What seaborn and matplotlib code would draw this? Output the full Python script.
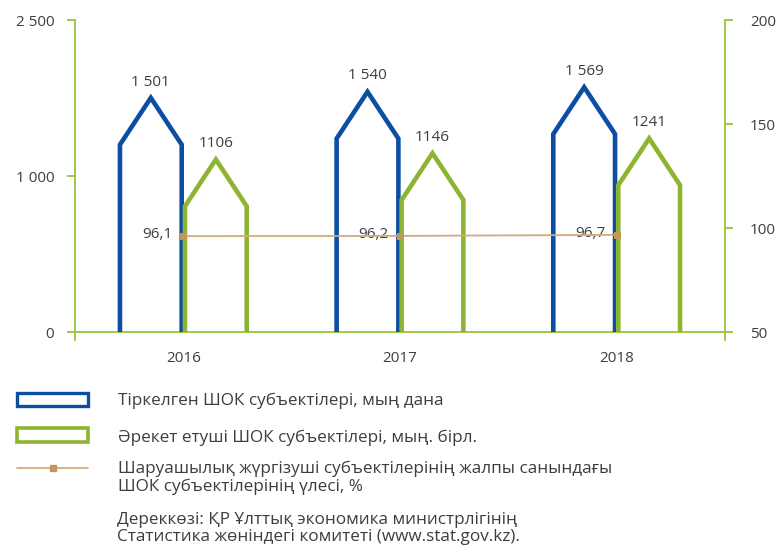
import pandas as pd
import matplotlib
matplotlib.use('Agg')
import matplotlib.pyplot as plt
from matplotlib.patches import Rectangle
from matplotlib.lines import Line2D
import seaborn as sns

# data
years = ['2016', '2017', '2018']
registered = [1501, 1540, 1569]
active = [1106, 1146, 1241]
share = [96.1, 96.2, 96.7]
registered_labels = ['1 501', '1 540', '1 569']
active_labels = ['1106', '1146', '1241']
share_labels = ['96,1', '96,2', '96,7']
left_ticks = [0, 1000, 2000]
left_tick_labels = ['0', '1 000', '2 500']
right_ticks = [50, 100, 150, 200]

series_names = ['Тіркелген ШОК субъектілері, мың дана',
                'Әрекет етуші ШОК субъектілері, мың. бірл.']
line_name = 'Шаруашылық жүргізуші субъектілерінің жалпы санындағы\nШОК субъектілерінің үлесі, %'
source = 'Дереккөзі: ҚР Ұлттық экономика министрлігінің\nСтатистика жөніндегі комитеті (www.stat.gov.kz).'

BLUE = '#0b4ea2'
GREEN = '#8db532'
AXIS = '#97c43e'
TAN = '#d2ab7c'
MARK = '#c3965c'
TEXT = '#3d3d3d'
ROOF = 300  # roof height in data units

sns.set_theme(style='white')
plt.rcParams['font.family'] = ['Open Sans', 'DejaVu Sans']

df = pd.DataFrame({'year': years * 2,
                   'value': registered + active,
                   'series': [series_names[0]] * 3 + [series_names[1]] * 3})

W, H = 780, 547
fig = plt.figure(figsize=(W / 100, H / 100), dpi=100)
ax = fig.add_axes([75 / W, 1 - 332 / H, (725 - 75) / W, (332 - 20) / H])

# invisible bars give the positions, house outlines drawn on top
sns.barplot(data=df, x='year', y='value', hue='series', palette=[BLUE, GREEN],
            width=0.6, gap=0.05, alpha=0, legend=False, ax=ax)

labels = registered_labels + active_labels
colors = [BLUE] * 3 + [GREEN] * 3
for p, lab, c in zip(ax.patches, labels, colors):
    x, w, h = p.get_x(), p.get_width(), p.get_height()
    xs = [x, x, x + w / 2, x + w, x + w]
    ys = [0, h - ROOF, h, h - ROOF, 0]
    ax.plot(xs, ys, color=c, lw=3.3, solid_joinstyle='miter', solid_capstyle='butt', zorder=3)
    ax.annotate(lab, (x + w / 2, h), xytext=(0, 6), textcoords='offset points',
                ha='center', va='bottom', fontsize=11, color=TEXT)

ax.set_xlim(-0.5, 2.5)
ax.set_ylim(0, 2000)
ax.set_yticks(left_ticks)
ax.set_yticklabels(left_tick_labels)
ax.set_xlabel('')
ax.set_ylabel('')

ax2 = ax.twinx()
sns.lineplot(x=[0, 1, 2], y=share, ax=ax2, color=TAN, lw=1.3, marker='s', markersize=5,
             markerfacecolor=MARK, markeredgecolor=MARK, zorder=4)
for i, (v, lab) in enumerate(zip(share, share_labels)):
    ax2.annotate(lab, (i, v), xytext=(-8, 1), textcoords='offset points',
                 ha='right', va='center', fontsize=11, color=TEXT)
ax2.set_ylim(50, 200)
ax2.set_yticks(right_ticks)
ax2.set_xlim(-0.5, 2.5)
ax2.set_ylabel('')

for s in ['top', 'right']:
    ax.spines[s].set_visible(False)
for s in ['top', 'left', 'bottom']:
    ax2.spines[s].set_visible(False)
for sp in [ax.spines['left'], ax.spines['bottom'], ax2.spines['right']]:
    sp.set_color(AXIS)
    sp.set_linewidth(1.3)
ax.spines['left'].set_bounds(-50, 2000)
ax2.spines['right'].set_bounds(46, 200)

ax.tick_params(axis='y', left=True, length=6, width=1.3, color=AXIS, pad=9,
               labelsize=11, labelcolor=TEXT)
ax.tick_params(axis='x', bottom=False, length=0, pad=14, labelsize=11, labelcolor=TEXT)
ax2.tick_params(axis='y', right=True, length=6, width=1.3, color=AXIS, pad=12,
                labelsize=11, labelcolor=TEXT)


# legend, drawn by hand in figure pixels
def fx(px):
    return px / W


def fy(py):
    return 1 - py / H


fig.add_artist(Rectangle((fx(17), fy(406)), (88 - 17) / W, 13 / H, fill=False,
                         edgecolor=BLUE, lw=2.4, transform=fig.transFigure))
fig.add_artist(Rectangle((fx(17), fy(442)), (88 - 17) / W, 14 / H, fill=False,
                         edgecolor=GREEN, lw=2.6, transform=fig.transFigure))
fig.add_artist(Line2D([fx(17), fx(88)], [fy(468), fy(468)], color=TAN, lw=1.3,
                      transform=fig.transFigure))
fig.add_artist(Line2D([fx(53)], [fy(468)], marker='s', ms=5, color=MARK, lw=0,
                      transform=fig.transFigure))

LEG = 12.3
fig.text(fx(118), fy(401), series_names[0], va='center', ha='left', fontsize=LEG, color=TEXT)
fig.text(fx(118), fy(438), series_names[1], va='center', ha='left', fontsize=LEG, color=TEXT)
fig.text(fx(118), fy(461), line_name, va='top', ha='left', fontsize=LEG, color=TEXT,
         linespacing=1.1)
fig.text(fx(117), fy(512), source, va='top', ha='left', fontsize=LEG, color=TEXT,
         linespacing=1.1)

fig.savefig('out.png', dpi=100)
